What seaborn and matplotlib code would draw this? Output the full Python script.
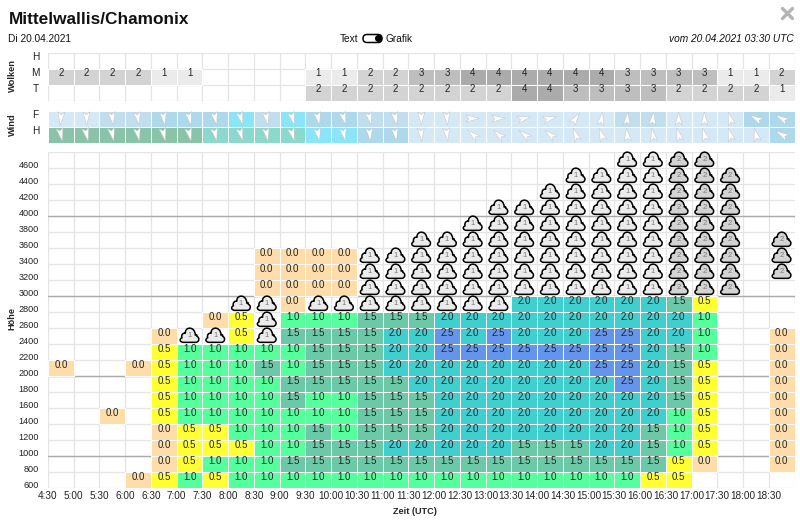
import numpy as np
import pandas as pd
import seaborn as sns
import matplotlib.pyplot as plt
from matplotlib.colors import ListedColormap
from matplotlib.markers import MarkerStyle
from matplotlib.patches import Circle, FancyBboxPatch
from matplotlib.path import Path
from matplotlib.transforms import Affine2D

n = np.nan

times = ['4:30', '5:00', '5:30', '6:00', '6:30', '7:00', '7:30', '8:00', '8:30', '9:00',
         '9:30', '10:00', '10:30', '11:00', '11:30', '12:00', '12:30', '13:00', '13:30',
         '14:00', '14:30', '15:00', '15:30', '16:00', '16:30', '17:00', '17:30', '18:00', '18:30']
heights = [4600, 4400, 4200, 4000, 3800, 3600, 3400, 3200, 3000, 2800, 2600,
           2400, 2200, 2000, 1800, 1600, 1400, 1200, 1000, 800, 600]

# clouds table (H, M, T), 1-4 = cover
clouds_h = [n] * 29
clouds_m = [2, 2, 2, 2, 1, 1, n, n, n, n, 1, 1, 2, 2, 3, 3, 4, 4, 4, 4, 4, 4, 3, 3, 3, 3, 1, 1, 2]
clouds_t = [n] * 10 + [2, 2, 2, 2, 2, 2, 2, 2, 4, 4, 3, 3, 3, 3, 2, 2, 2, 2, 1]

# wind strength class per column, and where the arrow points (deg clockwise from north)
wind_f = [1, 1, 2, 2, 3, 3, 3, 4, 2, 4, 3, 3, 2, 2, 1, 1, 1, 1, 1, 1, 1, 1, 2, 2, 1, 1, 1, 3, 3]
wind_h = [6, 6, 6, 6, 6, 6, 5, 5, 5, 5, 4, 4, 3, 3, 1, 1, 1, 1, 1, 1, 1, 1, 1, 1, 1, 1, 1, 1, 3]
dir_f = [185, 178, 172, 168, 172, 168, 168, 165, 170, 165, 168, 165, 168, 170,
         180, 175, 88, 88, 75, 75, 35, 8, 5, 5, 0, 0, 345, 300, 300]
dir_h = [168, 168, 168, 168, 168, 168, 168, 165, 170, 165, 168, 168, 175, 172,
         175, 172, 310, 310, 310, 310, 340, 340, 355, 350, 345, 345, 345, 345, 300]

# thermal climb, top row to bottom row
thermal = [
    [n] * 29,
    [n] * 29,
    [n] * 29,
    [n] * 29,
    [n] * 29,
    [n] * 29,
    [n] * 8 + [0, 0, 0, 0] + [n] * 17,
    [n] * 8 + [0, 0, 0, 0] + [n] * 17,
    [n] * 8 + [0, 0, 0, 0] + [n] * 17,
    [n] * 9 + [0] + [n] * 8 + [2, 2, 2, 2, 2, 2, 1.5, .5] + [n] * 3,
    [n] * 6 + [0, .5, n, 1, 1, 1, 1.5, 1.5, 1.5] + [2] * 10 + [1] + [n] * 3,
    [n] * 4 + [0, n, n, .5, n, 1.5, 1.5, 1.5, 1.5, 2, 2, 2.5, 2, 2.5, 2, 2, 2, 2.5, 2.5, 2, 2, 1, n, n, 0],
    [n] * 4 + [.5, 1, 1, 1, 1, 1, 1.5, 1.5, 1.5, 2, 2] + [2.5] * 8 + [2, 1.5, 1, n, n, 0],
    [0, n, n, 0, .5, 1, 1, 1, 1.5, 1, 1.5, 1.5, 1.5, 2] + [2] * 7 + [2.5, 2.5, 2, 1.5, .5, n, n, 0],
    [n] * 4 + [.5, 1, 1, 1, 1, 1.5, 1.5, 1.5, 1.5, 1.5] + [2] * 8 + [2.5, 2, 1.5, .5, n, n, 0],
    [n] * 4 + [.5, 1, 1, 1, 1, 1.5, 1, 1, 1.5, 1.5, 1.5] + [2] * 9 + [1.5, .5, n, n, 0],
    [n, n, 0, n, .5, 1, 1, 1, 1, 1, 1, 1, 1.5, 1.5, 1.5] + [2] * 9 + [1, .5, n, n, 0],
    [n] * 4 + [0, .5, .5, 1, 1, 1, 1.5, 1, 1.5, 1.5, 1.5] + [2] * 8 + [1.5, 1, .5, n, n, 0],
    [n] * 4 + [0, .5, .5, .5, 1, 1, 1.5, 1.5, 1.5, 2, 2, 2, 2, 2, 1.5, 1.5, 1.5, 2, 2, 1.5, 1, .5, n, n, 0],
    [n] * 4 + [0, .5, 1, 1, 1] + [1.5] * 15 + [.5, 0, n, n, 0],
    [n] * 3 + [0, .5, 1, .5] + [1] * 16 + [.5, .5] + [n] * 4,
]

# cloud symbols: column, lowest band, highest band, symbol number
cloud_col = [5, 6, 7, 8, 10, 11, 12, 13, 14, 15, 16, 17, 18, 19, 20, 21, 22, 23, 24, 25, 26, 28]
cloud_low = [2400, 2400, 2800, 2400, 2800, 2800, 2800, 2800, 2800, 2800, 2800, 2800,
             3000, 3000, 3000, 3000, 3000, 3000, 3000, 3000, 3000, 3200]
cloud_high = [2400, 2400, 2800, 2800, 2800, 2800, 3400, 3400, 3600, 3600, 3800, 4000,
              4000, 4200, 4400, 4400, 4600, 4600, 4600, 4600, 4400, 3600]
cloud_kind = [1] * 18 + [2] * 4

thermal_colors = ['#FFDDAA', '#FFFF33', '#55FF9C', '#6CC9A8', '#40CFCF', '#6495ED']
cover_colors = ['#EBEBEB', '#D3D3D3', '#BEBEBE', '#ABABAB']
wind_colors = ['#D5E8F5', '#C1DEEE', '#AED8EC', '#8AE5F8', '#8BD9CC', '#8AC4A8']
grid_color = '#E4E4E4'

sns.set_theme(style='white')
plt.rcParams['font.family'] = ['Liberation Sans', 'DejaVu Sans']

fig = plt.figure(figsize=(8, 5.2), dpi=100)


def panel(top, height):
    ax = fig.add_axes([48 / 800, 1 - (top + height) / 520, 746.5 / 800, height / 520])
    return ax


def finish(ax, rows):
    ax.set_xlim(0, 29)
    ax.set_ylim(rows, 0)
    ax.set_xlabel('')
    ax.set_ylabel('')
    ax.set_axisbelow(True)
    ax.grid(True, color=grid_color, linewidth=0.9)
    sns.despine(ax=ax, left=True, bottom=True)


def white_edges(ax):
    # empty cells would otherwise paint white lines over the grid
    mesh = ax.collections[0]
    empty = np.ma.getmaskarray(mesh.get_array()).ravel()
    colors = np.ones((empty.size, 4))
    colors[empty, 3] = 0
    mesh.set_edgecolor(colors)
    mesh.set_antialiased(True)


# cloud cover table
ax_cover = panel(52.5, 48)
sns.heatmap(np.array([clouds_h, clouds_m, clouds_t]), ax=ax_cover, cmap=ListedColormap(cover_colors),
            vmin=0.5, vmax=4.5, cbar=False, annot=True, fmt='.0f', linewidths=0.72, linecolor='white',
            annot_kws={'fontsize': 7, 'color': '#222222', 'va': 'baseline'},
            xticklabels=False, yticklabels=False)
white_edges(ax_cover)
finish(ax_cover, 3)
ax_cover.set_xticks(range(30), [''] * 30)
ax_cover.set_yticks(range(4), [''] * 4)
ax_cover.tick_params(length=0)

# wind table
ax_wind = panel(110.5, 32)
sns.heatmap(np.array([wind_f, wind_h]), ax=ax_wind, cmap=ListedColormap(wind_colors),
            vmin=0.5, vmax=6.5, cbar=False, linewidths=0.72, linecolor='white',
            xticklabels=False, yticklabels=False)
white_edges(ax_wind)

arrow = Path([(0, .5), (.27, -.5), (0, -.28), (-.27, -.5), (0, .5)],
             [Path.MOVETO, Path.LINETO, Path.LINETO, Path.LINETO, Path.CLOSEPOLY])
wind_df = pd.DataFrame({'x': np.arange(29).tolist() * 2,
                        'y': [0] * 29 + [1] * 29,
                        'angle': dir_f + dir_h})
wind_df['x'] += .5
wind_df['y'] += .5
arrow_markers = {a: MarkerStyle(arrow, transform=Affine2D().rotate_deg(-a)) for a in wind_df['angle'].unique()}
sns.scatterplot(data=wind_df, x='x', y='y', style='angle', markers=arrow_markers, s=90, color='white',
                edgecolor='#C4C4C4', linewidth=0.35, legend=False, ax=ax_wind, zorder=3)
finish(ax_wind, 2)
ax_wind.grid(False)
ax_wind.set_xticks([])
ax_wind.set_yticks([])

# main thermal chart
ax = panel(151.5, 336)
sns.heatmap(np.array(thermal), ax=ax, cmap=ListedColormap(thermal_colors), vmin=-0.25, vmax=2.75,
            cbar=False, annot=True, fmt='.1f', linewidths=0.72, linecolor='white',
            annot_kws={'fontsize': 7, 'color': '#222222', 'va': 'baseline'},
            xticklabels=False, yticklabels=False)
white_edges(ax)

cloud = Path([(-.32, -.36), (.32, -.36),
              (.5, -.36), (.56, -.12), (.38, -.04),
              (.4, .06), (.34, .06), (.3, .02),
              (.3, .3), (.1, .42), (-.04, .38),
              (-.18, .36), (-.24, .22), (-.22, .12),
              (-.34, .16), (-.46, .02), (-.4, -.12),
              (-.56, -.18), (-.52, -.36), (-.32, -.36), (-.32, -.36)],
             [Path.MOVETO, Path.LINETO] + [Path.CURVE4] * 18 + [Path.CLOSEPOLY])

cloud_x, cloud_y, kinds = [], [], []
for col, low, high, kind in zip(cloud_col, cloud_low, cloud_high, cloud_kind):
    for h in range(low, high + 200, 200):
        cloud_x.append(col + .5)
        cloud_y.append((4800 - h) / 200 - .5)
        kinds.append(kind)
cloud_df = pd.DataFrame({'x': cloud_x, 'y': cloud_y, 'kind': kinds})
sns.scatterplot(data=cloud_df, x='x', y='y', hue='kind', palette={1: '#EBEBEB', 2: '#D3D3D3'},
                marker=cloud, s=235, edgecolor='black', linewidth=1.1, legend=False, ax=ax,
                zorder=3, clip_on=False)
for x, y, kind in zip(cloud_x, cloud_y, kinds):
    ax.text(x, y - .02, str(kind), ha='center', va='center', fontsize=5.5, color='#777777', zorder=4)

finish(ax, 21)
ax.set_xticks(range(30), times + [''], fontsize=7.2, color='#222222', rotation=0)
ax.set_yticks([0] + [(4800 - h) / 200 for h in heights], [''] + [str(h) for h in heights],
              fontsize=6.6, color='#222222', rotation=0)
for label in ax.get_yticklabels():
    label.set_verticalalignment('baseline')
ax.tick_params(axis='x', length=0, pad=2.5)
ax.tick_params(axis='y', length=0, pad=6.5)
for h in [1000, 2000, 3000, 4000]:
    ax.axhline((4800 - h) / 200, color='#AAAAAA', linewidth=1.0, zorder=0.8)

# everything around the panels, in pixel coordinates
top = fig.add_axes([0, 0, 1, 1], facecolor='none')
top.set_xlim(0, 800)
top.set_ylim(520, 0)
top.axis('off')

top.text(8.5, 19, 'Mittelwallis/Chamonix', fontsize=12.4, fontweight='bold', color='#111111', va='center')
top.text(8.5, 38.5, 'Di 20.04.2021', fontsize=7.3, color='#111111', va='center')
top.text(358.5, 38.5, 'Text', fontsize=7.3, color='#111111', va='center', ha='right')
top.text(386, 38.5, 'Grafik', fontsize=7.3, color='#111111', va='center')
top.text(794, 38.5, 'vom 20.04.2021 03:30 UTC', fontsize=7.3, style='italic', color='#111111',
         va='center', ha='right')
top.add_patch(FancyBboxPatch((363, 34.5), 19, 8, boxstyle='round,pad=0,rounding_size=4',
                             facecolor='white', edgecolor='black', linewidth=1.1))
top.add_patch(Circle((378.5, 38.5), 2.8, color='black'))
top.plot([782.5, 792.5], [8.5, 18.5], color='#B4B4B4', linewidth=2.4)
top.plot([782.5, 792.5], [18.5, 8.5], color='#B4B4B4', linewidth=2.4)

for text, y in [('H', 57), ('M', 73), ('T', 89.5), ('F', 114.5), ('H', 130.5)]:
    top.text(35.7, y, text, fontsize=7.3, color='#222222', ha='center', va='center')

top.text(12.5, 76, 'Wolken', fontsize=6.7, fontweight='bold', rotation=90, ha='center', va='center')
top.text(12, 125, 'Wind', fontsize=6.7, fontweight='bold', rotation=90, ha='center', va='center')
top.text(12, 319, 'Höhe', fontsize=6.6, fontweight='bold', rotation=90, ha='center', va='center')
top.text(415, 511, 'Zeit (UTC)', fontsize=6.6, fontweight='bold', ha='center', va='center')

plt.savefig('out.png', dpi=100)
